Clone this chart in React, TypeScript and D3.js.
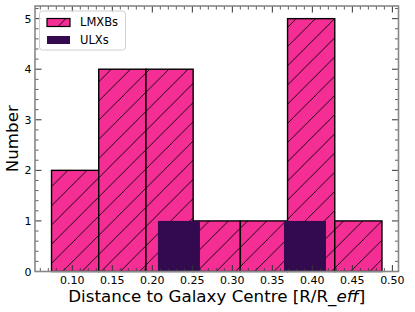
import React from "react";
import * as d3 from "d3";

const lmxbEdges = [0.074, 0.133, 0.192, 0.251, 0.31, 0.369, 0.428, 0.487];
const lmxbCounts = [2, 4, 4, 1, 1, 5, 1];
const ulxEdges = [0.207, 0.2595, 0.312, 0.3645, 0.417];
const ulxCounts = [1, 0, 0, 1];
const xTickValues = [0.1, 0.15, 0.2, 0.25, 0.3, 0.35, 0.4, 0.45, 0.5];
const xTickLabels = ["0.10", "0.15", "0.20", "0.25", "0.30", "0.35", "0.40", "0.45", "0.50"];
const yTickValues = [0, 1, 2, 3, 4, 5];
const yTickLabels = ["0", "1", "2", "3", "4", "5"];
const legendLabels = ["LMXBs", "ULXs"];

const W = 415, H = 312;
const L = 35, R = 398.5, T = 6, B = 271.5;
const PINK = "#f52e96";
const DARK = "#330a50";
const FONT = "DejaVu Sans, sans-serif";
const HS = 19.2;

export default function App() {
  const lo = d3.min(lmxbEdges)!, hi = d3.max(lmxbEdges)!;
  const pad = (hi - lo) * 0.05;
  const x = d3.scaleLinear().domain([lo - pad, hi + pad]).range([L, R]);
  const y = d3.scaleLinear().domain([0, 5.25]).range([B, T]);
  const [x0, x1] = x.domain();
  const xMinor = d3.range(0.05, 0.55, 0.01).filter(v => v >= x0 && v <= x1 && Math.abs(Math.round(v * 20) - v * 20) > 1e-6);
  const yMinor = d3.range(0, 5.3, 0.2).filter(v => v <= 5.25 && Math.abs(Math.round(v) - v) > 1e-6);
  const tc = "#333";
  return (
    <svg width={W} height={H} style={{ position: "absolute", left: 0, top: 0 }} fontFamily={FONT}>
      <defs>
        <pattern id="hatch" patternUnits="userSpaceOnUse" width={HS} height={HS} x={7.7} y={0}>
          <rect width={HS} height={HS} fill={PINK} />
          <path d={`M0,${HS} L${HS},0 M-2,2 L2,-2 M${HS - 2},${HS + 2} L${HS + 2},${HS - 2}`} stroke="#000" strokeWidth={0.9} />
        </pattern>
      </defs>
      <rect width={W} height={H} fill="#fff" />
      {lmxbCounts.map((c, i) => (
        <rect key={"l" + i} x={x(lmxbEdges[i])} y={y(c)} width={x(lmxbEdges[i + 1]) - x(lmxbEdges[i])} height={y(0) - y(c)}
          fill="url(#hatch)" stroke="#000" strokeWidth={1.4} />
      ))}
      {ulxCounts.map((c, i) => c > 0 ? (
        <rect key={"u" + i} x={x(ulxEdges[i])} y={y(c)} width={x(ulxEdges[i + 1]) - x(ulxEdges[i])} height={y(0) - y(c)}
          fill={DARK} />
      ) : null)}
      {xTickValues.map(v => (
        <g key={"xt" + v}>
          <line x1={x(v)} x2={x(v)} y1={B} y2={B - 6.5} stroke={tc} strokeWidth={1} />
          <line x1={x(v)} x2={x(v)} y1={T} y2={T + 6.5} stroke={tc} strokeWidth={1} />
        </g>
      ))}
      {xMinor.map(v => (
        <g key={"xm" + v}>
          <line x1={x(v)} x2={x(v)} y1={B} y2={B - 3.5} stroke={tc} strokeWidth={0.8} />
          <line x1={x(v)} x2={x(v)} y1={T} y2={T + 3.5} stroke={tc} strokeWidth={0.8} />
        </g>
      ))}
      {yTickValues.map(v => (
        <g key={"yt" + v}>
          <line x1={L} x2={L + 6.5} y1={y(v)} y2={y(v)} stroke={tc} strokeWidth={1} />
          <line x1={R} x2={R - 6.5} y1={y(v)} y2={y(v)} stroke={tc} strokeWidth={1} />
        </g>
      ))}
      {yMinor.map(v => (
        <g key={"ym" + v}>
          <line x1={L} x2={L + 3.5} y1={y(v)} y2={y(v)} stroke={tc} strokeWidth={0.8} />
          <line x1={R} x2={R - 3.5} y1={y(v)} y2={y(v)} stroke={tc} strokeWidth={0.8} />
        </g>
      ))}
      <rect x={L} y={T} width={R - L} height={B - T} fill="none" stroke="#888" strokeWidth={1.6} />
      {xTickValues.map((v, i) => (
        <text key={"xl" + v} x={x(v)} y={283.5} fontSize={11} textAnchor="middle" fill="#000">{xTickLabels[i]}</text>
      ))}
      {yTickValues.map((v, i) => (
        <text key={"yl" + v} x={31.5} y={y(v) + 4} fontSize={11} textAnchor="end" fill="#000">{yTickLabels[i]}</text>
      ))}
      <text x={(L + R) / 2} y={301.5} fontSize={16.7} textAnchor="middle" fill="#000">
        Distance to Galaxy Centre [R/R_<tspan fontStyle="italic">eff</tspan>]
      </text>
      <text transform={`translate(18.3,${(T + B) / 2}) rotate(-90)`} fontSize={16.7} textAnchor="middle" fill="#000">Number</text>
      <rect x={39.5} y={11} width={86} height={39} rx={3} fill="#fff" fillOpacity={0.8} stroke="#d0d0d0" strokeWidth={1} />
      <rect x={47} y={18.5} width={23} height={8} fill="url(#hatch)" stroke="#000" strokeWidth={1.2} />
      <rect x={47} y={36} width={23} height={8} fill={DARK} />
      <text x={80} y={26} fontSize={11.5} fill="#000">{legendLabels[0]}</text>
      <text x={80} y={43.5} fontSize={11.5} fill="#000">{legendLabels[1]}</text>
    </svg>
  );
}
